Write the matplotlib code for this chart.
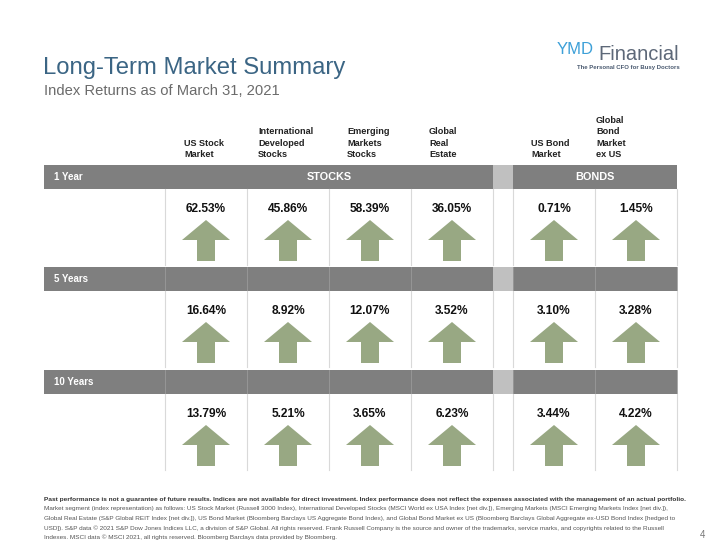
import matplotlib
matplotlib.use("Agg")
import matplotlib.pyplot as plt
from matplotlib.patches import Rectangle, Polygon

plt.rcParams['font.family'] = ['Liberation Sans', 'DejaVu Sans']

# --- data ---
asset_labels = ["US Stock\nMarket", "International\nDeveloped\nStocks", "Emerging\nMarkets\nStocks",
                "Global\nReal\nEstate", "US Bond\nMarket", "Global\nBond\nMarket\nex US"]
groups = ["STOCKS", "BONDS"]
group_of = [0, 0, 0, 0, 1, 1]
periods = ["1 Year", "5 Years", "10 Years"]
returns_1y = [62.53, 45.86, 58.39, 36.05, 0.71, 1.45]
returns_5y = [16.64, 8.92, 12.07, 3.52, 3.10, 3.28]
returns_10y = [13.79, 5.21, 3.65, 6.23, 3.44, 4.22]
returns = [returns_1y, returns_5y, returns_10y]

footnote_bold = ("Past performance is not a guarantee of future results. Indices are not available for direct "
                 "investment. Index performance does not reflect the expenses associated with the management "
                 "of an actual portfolio.")
footnote_lines = [
    "Market segment (index representation) as follows: US Stock Market (Russell 3000 Index), International Developed Stocks (MSCI World ex USA Index [net div.]), Emerging Markets (MSCI Emerging Markets Index [net div.]),",
    "Global Real Estate (S&P Global REIT Index [net div.]), US Bond Market (Bloomberg Barclays US Aggregate Bond Index), and Global Bond Market ex US (Bloomberg Barclays Global Aggregate ex-USD Bond Index [hedged to",
    "USD]). S&P data \u00a9 2021 S&P Dow Jones Indices LLC, a division of S&P Global. All rights reserved. Frank Russell Company is the source and owner of the trademarks, service marks, and copyrights related to the Russell",
    "Indexes. MSCI data \u00a9 MSCI 2021, all rights reserved. Bloomberg Barclays data provided by Bloomberg.",
]

# --- layout (pixels) ---
band_gray = "#7f7f7f"
gap_gray = "#c0c0c0"
arrow_green = "#98a883"
line_gray = "#d9d9d9"
left_x, first_x, col_w, gap_w, right_x = 44, 165, 82, 20, 677
band_tops = [165, 267, 370]
band_h = 24
header_x = [184, 258, 347, 429, 531, 596]


def col_left(i):
    return first_x + i * col_w + (gap_w if group_of[i] == 1 else 0)


fig = plt.figure(figsize=(7.2, 5.56), dpi=100)
ax = fig.add_axes([0, 0, 1, 1])
ax.set_xlim(0, 720)
ax.set_ylim(556, 0)
ax.axis("off")

# titles
ax.text(43, 68, "Long-Term Market Summary", fontsize=17.2, color="#3b6584", va="center")
ax.text(44, 91, "Index Returns as of March 31, 2021", fontsize=10.6, color="#6b6b6b", va="center")

# logo
ax.text(557, 49, "YMD", fontsize=12, color="#3da0d8", va="center")
ax.text(598, 54, "Financial", fontsize=14.5, color="#5d6878", va="center")
ax.text(680, 67, "The Personal CFO for Busy Doctors", fontsize=4.3, color="#4a5a70",
        ha="right", va="center", fontweight="bold")

# column headers
for i, lab in enumerate(asset_labels):
    ax.text(header_x[i], 159, lab, fontsize=6.6, fontweight="bold", color="#222222",
            va="bottom", ha="left", linespacing=1.35)

gap_left = col_left(3) + col_w
for r, top in enumerate(band_tops):
    # band
    ax.add_patch(Rectangle((left_x, top), right_x - left_x, band_h, color=band_gray, lw=0))
    ax.add_patch(Rectangle((gap_left, top), gap_w, band_h, color=gap_gray, lw=0))
    ax.text(left_x + 10, top + band_h / 2, periods[r], color="white", fontsize=7,
            fontweight="bold", va="center")
    if r == 0:
        ax.text((first_x + gap_left) / 2, top + band_h / 2, groups[0], color="white",
                fontsize=7.8, fontweight="bold", va="center", ha="center")
        ax.text((gap_left + gap_w + right_x) / 2, top + band_h / 2, groups[1], color="white",
                fontsize=7.8, fontweight="bold", va="center", ha="center")
    else:
        for i in range(len(asset_labels)):
            ax.plot([col_left(i)] * 2, [top, top + band_h], color="#9a9a9a", lw=0.6)
        ax.plot([right_x - 0.5] * 2, [top, top + band_h], color="#9a9a9a", lw=0.6)

    # cell separators
    y0, y1 = top + band_h, top + 100
    xs = [col_left(i) for i in range(len(asset_labels))] + [gap_left, right_x]
    for x in xs:
        ax.plot([x, x], [y0, y1], color=line_gray, lw=0.8)

    # values and arrows
    for i, v in enumerate(returns[r]):
        cx = col_left(i) + col_w / 2
        ax.text(cx, top + 44, f"{v:.2f}%", fontsize=8.6, fontweight="bold", color="#111111",
                ha="center", va="center")
        at, ab = top + 55, top + 96
        hw, sw, hh = 24, 9, 20
        pts = [(cx, at), (cx + hw, at + hh), (cx + sw, at + hh), (cx + sw, ab),
               (cx - sw, ab), (cx - sw, at + hh), (cx - hw, at + hh)]
        ax.add_patch(Polygon(pts, closed=True, color=arrow_green, lw=0))

# footnotes
foot_font = ['Liberation Sans Narrow', 'Liberation Sans', 'DejaVu Sans']
ax.text(44, 499, footnote_bold, fontsize=4.65, fontweight="bold", color="#333333",
        va="center", family=foot_font)
for k, line in enumerate(footnote_lines):
    ax.text(44, 508.5 + k * 9.6, line, fontsize=4.6, color="#555555", va="center", family=foot_font)
ax.text(700, 535, "4", fontsize=7, color="#777777", va="center")

fig.savefig("out.png", dpi=100)
